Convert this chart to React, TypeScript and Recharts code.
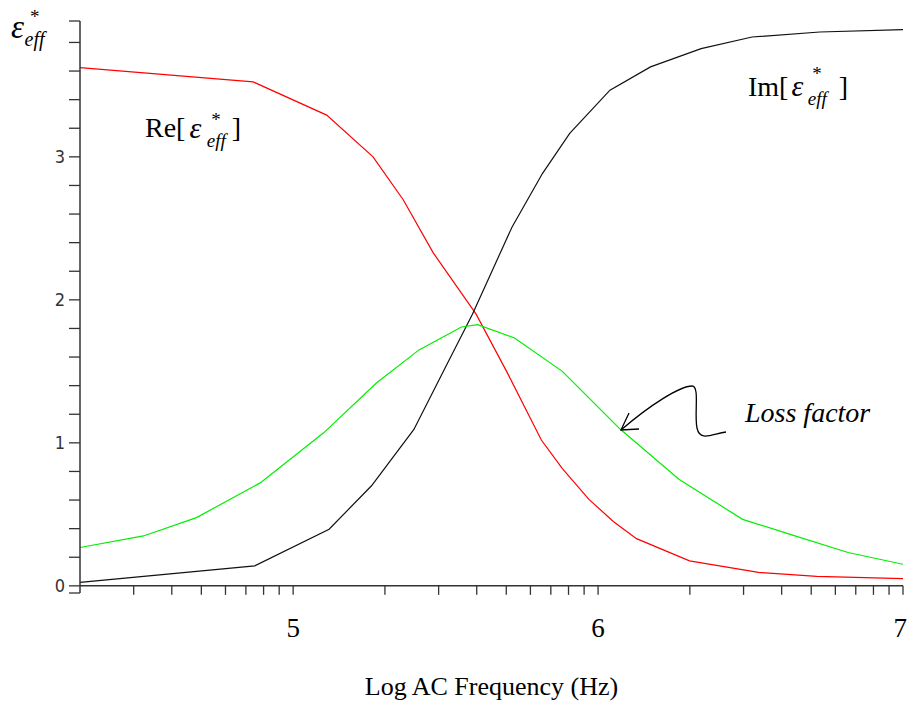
import { LineChart, Line, XAxis, YAxis, ReferenceLine } from 'recharts';

// log10 of AC frequency (Hz) and values
const reLogF = [4.301, 4.869, 5.11, 5.262, 5.361, 5.459, 5.6, 5.7, 5.814, 5.883, 5.97, 6.05, 6.126, 6.3, 6.526, 6.717, 7.0];
const reValues = [3.624, 3.524, 3.292, 3.0, 2.7, 2.33, 1.9, 1.5, 1.02, 0.82, 0.605, 0.45, 0.33, 0.175, 0.094, 0.066, 0.05];

const imLogF = [4.301, 4.527, 4.874, 5.118, 5.257, 5.396, 5.507, 5.588, 5.718, 5.818, 5.907, 6.039, 6.172, 6.338, 6.505, 6.727, 7.0];
const imValues = [0.024, 0.07, 0.14, 0.396, 0.7, 1.094, 1.56, 1.9, 2.51, 2.885, 3.164, 3.466, 3.629, 3.757, 3.838, 3.873, 3.89];

const lossLogF = [4.301, 4.509, 4.683, 4.892, 5.1, 5.274, 5.413, 5.552, 5.605, 5.726, 5.883, 6.074, 6.265, 6.474, 6.63, 6.82, 7.0];
const lossValues = [0.268, 0.349, 0.477, 0.72, 1.07, 1.42, 1.65, 1.81, 1.826, 1.733, 1.5, 1.093, 0.745, 0.465, 0.36, 0.233, 0.151];

const xTickFreqs = [3e4, 4e4, 5e4, 6e4, 7e4, 8e4, 9e4, 1e5, 2e5, 3e5, 4e5, 5e5, 6e5, 7e5, 8e5, 9e5, 1e6, 2e6, 3e6, 4e6, 5e6, 6e6, 7e6, 8e6, 9e6, 1e7];
const xLabelled = [5, 6, 7];
const yTicks = [-0.05, 0, 0.2, 0.4, 0.6, 0.8, 1, 1.2, 1.4, 1.6, 1.8, 2, 2.2, 2.4, 2.6, 2.8, 3, 3.2, 3.4, 3.6, 3.8, 3.95];
const yLabelled = [0, 1, 2, 3];

const toPoints = (xs: number[], ys: number[]) => xs.map((x, i) => ({ x, y: ys[i] }));

const X_DOMAIN = [Math.log10(2e4), 7];
const Y_DOMAIN = [-0.05, 3.95];
const PLOT_TOP = 21;
const PLOT_H = 572;
const ZERO_GAP = ((0 - Y_DOMAIN[0]) / (Y_DOMAIN[1] - Y_DOMAIN[0])) * PLOT_H;
const AXIS = '#333';
const SERIF = "'Liberation Serif', 'Times New Roman', serif";
const SANS = "'DejaVu Sans Condensed', 'Liberation Sans Narrow', 'Liberation Sans', sans-serif";

const XTick = ({ x, y, payload }: any) => {
  const v = payload.value;
  const label = xLabelled.find((l) => Math.abs(l - v) < 1e-6);
  const last = label === 7;
  return (
    <g>
      <line x1={x} x2={x} y1={y - ZERO_GAP} y2={y - ZERO_GAP + 9} stroke={AXIS} strokeWidth={1.3} />
      {label !== undefined && (
        <text x={last ? x + 4 : x} y={y + 44} textAnchor={last ? 'end' : 'middle'} fontFamily={SERIF} fontSize={27} fill="#000">
          {label}
        </text>
      )}
    </g>
  );
};

const YTick = ({ x, y, payload }: any) => {
  const v = payload.value;
  if (!yLabelled.some((l) => Math.abs(l - v) < 1e-6)) return <g />;
  return (
    <text x={x} y={y} dy={6} textAnchor="end" fontFamily={SANS} fontSize={18} fill={AXIS}>
      {v}
    </text>
  );
};

export default function App() {
  return (
    <div style={{ position: 'absolute', left: 0, top: 0, width: 908, height: 708, background: '#fff' }}>
      <LineChart width={908} height={708} margin={{ top: PLOT_TOP, right: 5, bottom: 0, left: 0 }}>
        <XAxis
          type="number"
          dataKey="x"
          domain={X_DOMAIN}
          ticks={xTickFreqs.map((f) => Math.log10(f))}
          interval={0}
          allowDataOverflow
          axisLine={false}
          tickLine={false}
          tickSize={0}
          tickMargin={0}
          tick={<XTick />}
          height={708 - PLOT_TOP - PLOT_H}
          label={{ value: 'Log AC Frequency (Hz)', position: 'bottom', offset: -31, fontFamily: SERIF, fontSize: 26, fill: '#000' }}
        />
        <YAxis
          type="number"
          dataKey="y"
          domain={Y_DOMAIN}
          ticks={yTicks}
          interval={0}
          allowDataOverflow
          width={80}
          tickSize={11}
          tickMargin={4}
          axisLine={{ stroke: AXIS, strokeWidth: 1.5 }}
          tickLine={{ stroke: AXIS, strokeWidth: 1.3 }}
          tick={<YTick />}
        />
        <ReferenceLine y={0} stroke={AXIS} strokeWidth={1.5} />
        <Line data={toPoints(reLogF, reValues)} dataKey="y" type="linear" stroke="#ff0000" strokeWidth={1.2} dot={false} isAnimationActive={false} />
        <Line data={toPoints(imLogF, imValues)} dataKey="y" type="linear" stroke="#111" strokeWidth={1.2} dot={false} isAnimationActive={false} />
        <Line data={toPoints(lossLogF, lossValues)} dataKey="y" type="linear" stroke="#00ee00" strokeWidth={1.2} dot={false} isAnimationActive={false} />
      </LineChart>
      <svg width={908} height={708} style={{ position: 'absolute', left: 0, top: 0, pointerEvents: 'none' }}>
        <g fontFamily={SERIF} fill="#000">
          {/* y-axis title: ε*_eff */}
          <text x={11} y={38} fontSize={33}>
            <tspan fontStyle="italic">ε</tspan>
            <tspan dx={6} dy={-15} fontSize={19}>*</tspan>
            <tspan dx={-15} dy={23} fontSize={20} fontStyle="italic">eff</tspan>
          </text>
          <text x={145} y={137} fontSize={28}>
            Re[
            <tspan dx={4} dy={1} fontSize={30} fontStyle="italic">ε</tspan>
            <tspan dx={10} dy={-12} fontSize={19}>*</tspan>
            <tspan dx={-14} dy={21} fontSize={19} fontStyle="italic">eff</tspan>
            <tspan dx={6} dy={-10}>]</tspan>
          </text>
          <text x={748} y={96} fontSize={28}>
            Im[
            <tspan dx={3} fontSize={30} fontStyle="italic">ε</tspan>
            <tspan dx={9} dy={-16} fontSize={19}>*</tspan>
            <tspan dx={-14} dy={25} fontSize={19} fontStyle="italic">eff</tspan>
            <tspan dx={12} dy={-9}>]</tspan>
          </text>
          <text x={745} y={422} fontSize={28} fontStyle="italic">Loss factor</text>
        </g>
        <path d="M 726 432 C 712 434, 700 442, 697 428 C 694 414, 700 386, 692 386 C 680 386, 650 405, 621 430" fill="none" stroke="#000" strokeWidth={1.3} />
        <path d="M 629 413 L 621 430 L 639 429" fill="none" stroke="#000" strokeWidth={1.3} />
      </svg>
    </div>
  );
}
